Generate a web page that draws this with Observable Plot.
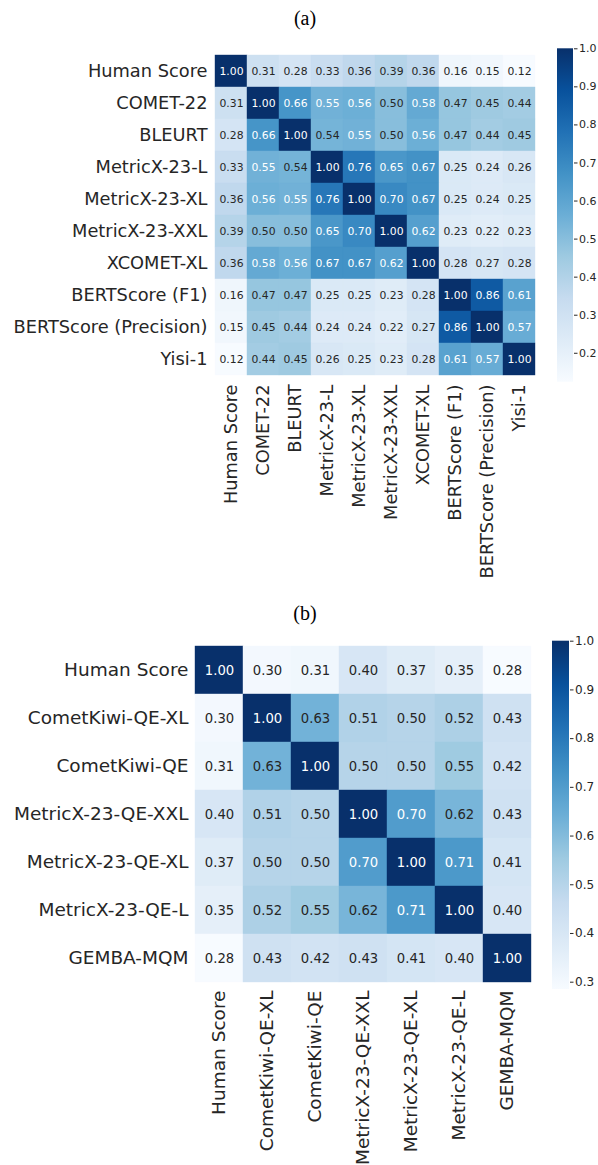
<!DOCTYPE html>
<html>
<head>
<meta charset="utf-8">
<script src="https://cdn.jsdelivr.net/npm/d3@7"></script>
<script src="https://cdn.jsdelivr.net/npm/@observablehq/plot@0.6"></script>
<style>
  html, body { margin: 0; padding: 0; background: #fff; }
  #root { position: relative; width: 598px; height: 1165px; overflow: hidden; }
  #root > svg, #root > .title { position: absolute; left: 0; }
  .title { width: 610px; text-align: center; font-family: "Liberation Serif", "Times New Roman", serif; font-size: 20px; line-height: 24px; color: #000; }
</style>
</head>
<body>
<div id="root"></div>
<script>
// ---------- data: panel (a) ----------
const labelsA = ["Human Score", "COMET-22", "BLEURT", "MetricX-23-L", "MetricX-23-XL", "MetricX-23-XXL", "XCOMET-XL", "BERTScore (F1)", "BERTScore (Precision)", "Yisi-1"];
const matrixA = [
  [1.00, 0.31, 0.28, 0.33, 0.36, 0.39, 0.36, 0.16, 0.15, 0.12],
  [0.31, 1.00, 0.66, 0.55, 0.56, 0.50, 0.58, 0.47, 0.45, 0.44],
  [0.28, 0.66, 1.00, 0.54, 0.55, 0.50, 0.56, 0.47, 0.44, 0.45],
  [0.33, 0.55, 0.54, 1.00, 0.76, 0.65, 0.67, 0.25, 0.24, 0.26],
  [0.36, 0.56, 0.55, 0.76, 1.00, 0.70, 0.67, 0.25, 0.24, 0.25],
  [0.39, 0.50, 0.50, 0.65, 0.70, 1.00, 0.62, 0.23, 0.22, 0.23],
  [0.36, 0.58, 0.56, 0.67, 0.67, 0.62, 1.00, 0.28, 0.27, 0.28],
  [0.16, 0.47, 0.47, 0.25, 0.25, 0.23, 0.28, 1.00, 0.86, 0.61],
  [0.15, 0.45, 0.44, 0.24, 0.24, 0.22, 0.27, 0.86, 1.00, 0.57],
  [0.12, 0.44, 0.45, 0.26, 0.25, 0.23, 0.28, 0.61, 0.57, 1.00]
];
const ticksA = [0.2, 0.3, 0.4, 0.5, 0.6, 0.7, 0.8, 0.9, 1.0];

// ---------- data: panel (b) ----------
const labelsB = ["Human Score", "CometKiwi-QE-XL", "CometKiwi-QE", "MetricX-23-QE-XXL", "MetricX-23-QE-XL", "MetricX-23-QE-L", "GEMBA-MQM"];
const matrixB = [
  [1.00, 0.30, 0.31, 0.40, 0.37, 0.35, 0.28],
  [0.30, 1.00, 0.63, 0.51, 0.50, 0.52, 0.43],
  [0.31, 0.63, 1.00, 0.50, 0.50, 0.55, 0.42],
  [0.40, 0.51, 0.50, 1.00, 0.70, 0.62, 0.43],
  [0.37, 0.50, 0.50, 0.70, 1.00, 0.71, 0.41],
  [0.35, 0.52, 0.55, 0.62, 0.71, 1.00, 0.40],
  [0.28, 0.43, 0.42, 0.43, 0.41, 0.40, 1.00]
];
const ticksB = [0.3, 0.4, 0.5, 0.6, 0.7, 0.8, 0.9, 1.0];

// ---------- style ----------
const blues = ["#f7fbff", "#deebf7", "#c6dbef", "#9ecae1", "#6baed6", "#4292c6", "#2171b5", "#08519c", "#08306b"];
const bluesInterp = d3.piecewise(d3.interpolateRgb, blues);
const DARK = "#262626";
const FONT = "DejaVu Sans, Liberation Sans, sans-serif";

function toTable(labels, matrix) {
  const rows = [];
  matrix.forEach((r, i) => r.forEach((v, j) => rows.push({row: labels[i], col: labels[j], v})));
  return rows;
}

function heatmap(o) {
  const data = toTable(o.labels, o.matrix);
  return Plot.plot({
    width: 598, height: o.height,
    marginLeft: o.left, marginRight: 598 - o.right,
    marginTop: o.top, marginBottom: o.height - o.bottom,
    style: {fontFamily: FONT, fontSize: o.labelSize + "px", color: DARK, background: "transparent", overflow: "visible"},
    x: {domain: o.labels, padding: 0, label: null},
    y: {domain: o.labels, padding: 0, label: null},
    color: {type: "linear", domain: [o.vmin, 1], interpolate: bluesInterp, clamp: true},
    marks: [
      Plot.cell(data, {x: "col", y: "row", fill: "v", stroke: "v", strokeWidth: 0.4}),
      Plot.text(data.filter(d => d.v < o.whiteAt), {x: "col", y: "row", text: d => d.v.toFixed(2), fill: DARK, fontSize: o.annotSize}),
      Plot.text(data.filter(d => d.v >= o.whiteAt), {x: "col", y: "row", text: d => d.v.toFixed(2), fill: "white", fontSize: o.annotSize}),
      Plot.axisY({tickSize: 0, tickPadding: 7, label: null, fontSize: o.labelSize}),
      Plot.axisX({tickSize: 0, tickPadding: o.xPad, tickRotate: -90, label: null, fontSize: o.labelSize})
    ]
  });
}

function colorbar(o) {
  const gradient = () => {
    const defs = d3.create("svg:defs");
    const g = defs.append("linearGradient").attr("id", o.id)
      .attr("x1", 0).attr("y1", 1).attr("x2", 0).attr("y2", 0);
    blues.forEach((c, i) => g.append("stop").attr("offset", i / (blues.length - 1)).attr("stop-color", c));
    return defs.node();
  };
  return Plot.plot({
    width: 598, height: o.height,
    marginLeft: o.left, marginRight: 598 - o.right,
    marginTop: o.top, marginBottom: o.height - o.bottom,
    style: {fontFamily: FONT, fontSize: o.tickSize + "px", color: DARK, background: "transparent", overflow: "visible"},
    x: {domain: [0, 1], axis: null},
    y: {domain: [o.vmin, 1], axis: "right", ticks: o.ticks, tickFormat: ".1f", tickSize: 3.5, tickPadding: 2, label: null},
    marks: [
      gradient,
      Plot.rect([0], {x1: 0, x2: 1, y1: o.vmin, y2: 1, fill: `url(#${o.id})`})
    ]
  });
}

const root = document.getElementById("root");
function place(node, top) { node.style.top = top + "px"; root.appendChild(node); return node; }
function title(text, top) {
  const d = document.createElement("div");
  d.className = "title"; d.textContent = text; d.style.top = top + "px";
  root.appendChild(d);
}

// ---------- panel (a) ----------
title("(a)", 6);
place(heatmap({labels: labelsA, matrix: matrixA, height: 595, left: 214, right: 536, top: 54, bottom: 376,
  vmin: 0.124, whiteAt: 0.55, labelSize: 17.8, annotSize: 10.8, xPad: 8}), 0);
place(colorbar({id: "gradA", height: 400, left: 557, right: 573, top: 48.3, bottom: 381.7,
  vmin: 0.124, ticks: ticksA, tickSize: 11}), 0);

// ---------- panel (b) ----------
title("(b)", 601);
const topB = 595;
place(heatmap({labels: labelsB, matrix: matrixB, height: 570, left: 195, right: 531, top: 646 - topB, bottom: 982 - topB,
  vmin: 0.285, whiteAt: 0.65, labelSize: 18.5, annotSize: 13.2, xPad: 8}), topB);
place(colorbar({id: "gradB", height: 405, left: 552, right: 569, top: 640.7 - topB, bottom: 989 - topB,
  vmin: 0.285, ticks: ticksB, tickSize: 12}), topB);
</script>
</body>
</html>
